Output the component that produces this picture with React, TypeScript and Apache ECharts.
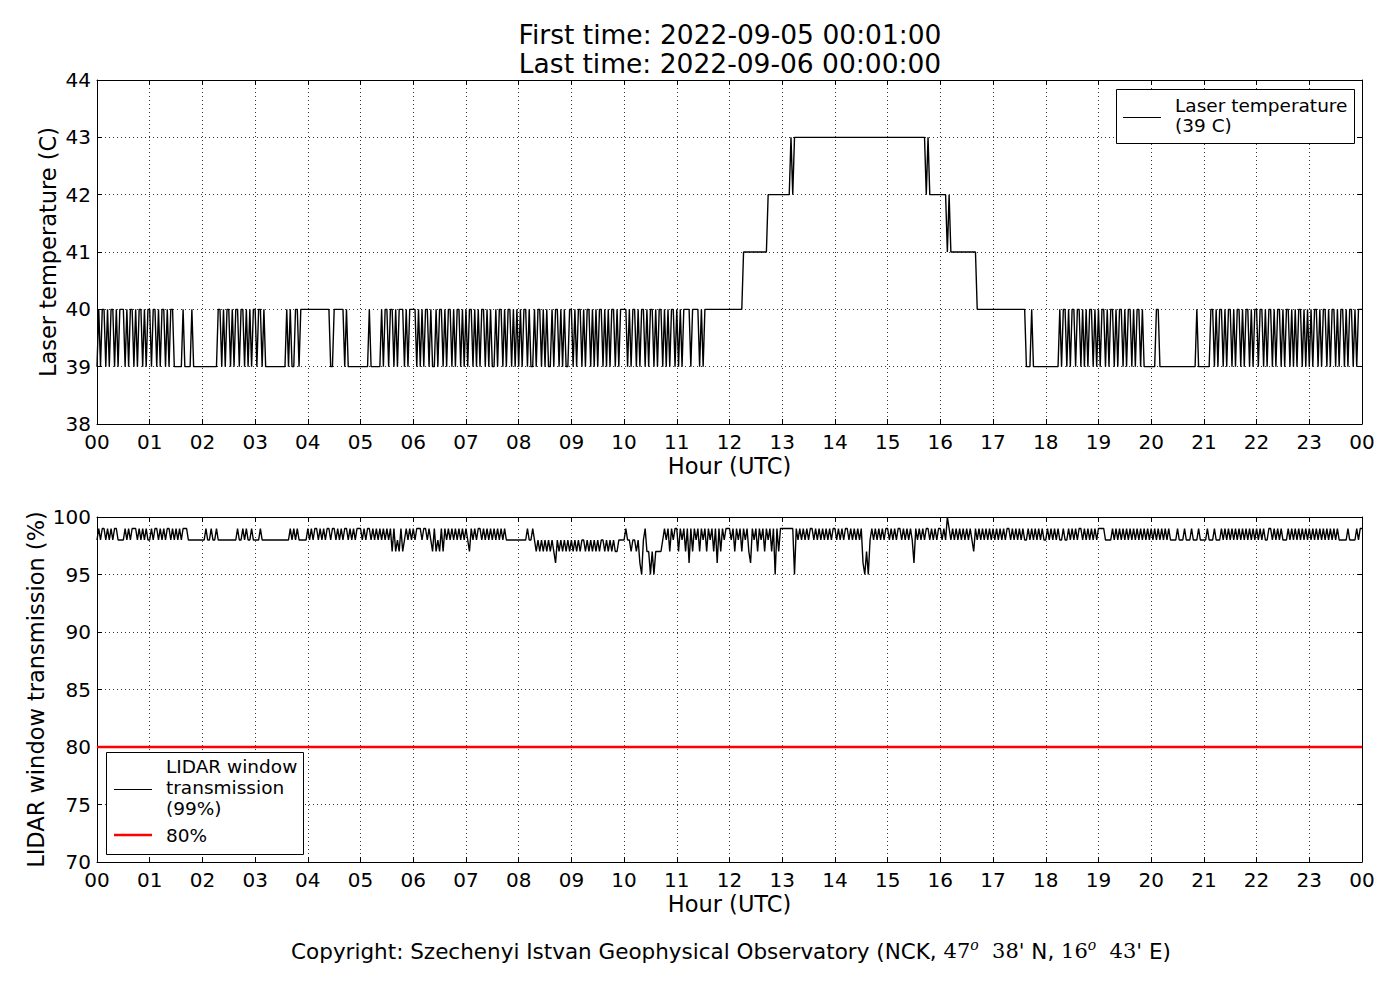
import React, { useEffect, useRef } from "react";
import * as echarts from "echarts";

const TITLE_LINES = ["First time: 2022-09-05 00:01:00", "Last time: 2022-09-06 00:00:00"];
const X_NAME = "Hour (UTC)";
const TEMP_NAME = "Laser temperature (C)";
const TRANS_NAME = "LIDAR window transmission (%)";
const TEMP_LEGEND = "Laser temperature\n(39 C)";
const TRANS_LEGEND = "LIDAR window\ntransmission\n(99%)";
const LIMIT_LEGEND = "80%";
const LIMIT_VALUE = 80;

// Laser temperature, one string per hour (2-minute samples), digit = value - 39
const TEMP_BASE = 39;
const TEMP_ROWS = [
  "010110101101011101011010110101",
  "101101011010110000010000100000",
  "000000000110101101011011010101",
  "101101000000000000101001101111",
  "111111111111100111111010000000",
  "000001000000101101101011101011",
  "110101011010010110101101011010",
  "101101010110101001011010110101",
  "010110100101101010010110101001",
  "101011010110101011010101101011",
  "110101101011010110101101010110",
  "101011110111101011111111111111",
  "111111112222222222222233333333",
  "333334344444444444444444444444",
  "444444444444444444444444444444",
  "444444444444444444444434333333",
  "333323222222222222222111111111",
  "111111111111111111100010000000",
  "000000001011010110110101011010",
  "101101011010110101101011010000",
  "000110000000000000000000001000",
  "000011010110101101011010110101",
  "101101011010110101101010110101",
  "010110101101011010110101101011",
];

// LIDAR window transmission, one string per hour (2-minute samples), char (base 36) = value - 90
const TRANS_BASE = 90;
const TRANS_ROWS = [
  "898998989899888898989998989898",
  "898998989899898989899988888888",
  "889889889888888888889889898898",
  "888988888888888888889898988888",
  "989899898989989989898998989899",
  "989899898989898989797879789898",
  "989998998987978797989898989898",
  "987989899898989898989898888888",
  "888889889878787878787687878787",
  "878787887878787878878787877888",
  "898878878658977575777789897989",
  "979897969798979897989796979899",
  "989798979897698979897989795979",
  "999999959898989899898989898989",
  "989898998989898965758989898989",
  "989898998989898698989899898989",
  "9898a9898989898989879898989898",
  "989898989989898989889898989898",
  "898989898898898989899898989898",
  "999988889898989898989898989898",
  "989898989898888988898889888988",
  "889888988898989898989898989898",
  "989898899898989888989898989898",
  "989898989898989898888898888989",
];

const X_MIN = 0;
const X_MAX = 24;
const TEMP_MIN = 38;
const TEMP_MAX = 44;
const TEMP_STEP = 1;
const TRANS_MIN = 70;
const TRANS_MAX = 100;
const TRANS_STEP = 5;

const FONT = '"DejaVu Sans", sans-serif';
const SERIF = '"DejaVu Serif", serif';

function expand(rows: string[], base: number): number[][] {
  const out: number[][] = [];
  rows.forEach((row, h) => {
    for (let i = 0; i < row.length; i++) {
      out.push([h + i / row.length, base + parseInt(row[i], 36)]);
    }
  });
  out.push([X_MAX, out[out.length - 1][1]]);
  return out;
}

const hourFmt = (v: number) => String(Math.round(v) % 24).padStart(2, "0");

function xAxis(grid: number, position: string, primary: boolean) {
  return {
    type: "value",
    gridIndex: grid,
    position,
    min: X_MIN,
    max: X_MAX,
    interval: 1,
    axisLine: { show: true, onZero: false, lineStyle: { color: "#000", width: 1 } },
    axisTick: { show: true, inside: true, length: 5, lineStyle: { color: "#000", width: 1 } },
    axisLabel: primary
      ? { show: true, margin: 8, color: "#000", fontSize: 20, fontFamily: FONT, formatter: hourFmt }
      : { show: false },
    splitLine: primary
      ? { show: true, lineStyle: { color: "#000", width: 0.8, type: [1, 3] } }
      : { show: false },
    name: primary ? X_NAME : "",
    nameLocation: "middle",
    nameGap: 30,
    nameMoveOverlap: false,
    nameTextStyle: { color: "#000", fontSize: 22.5, fontFamily: FONT },
  };
}

function yAxis(grid: number, position: string, primary: boolean, min: number, max: number, step: number, name: string, gap: number) {
  return {
    type: "value",
    gridIndex: grid,
    position,
    min,
    max,
    interval: step,
    axisLine: { show: true, onZero: false, lineStyle: { color: "#000", width: 1 } },
    axisTick: { show: true, inside: true, length: 5, lineStyle: { color: "#000", width: 1 } },
    axisLabel: primary
      ? { show: true, margin: 6, color: "#000", fontSize: 20, fontFamily: FONT }
      : { show: false },
    splitLine: primary
      ? { show: true, lineStyle: { color: "#000", width: 0.8, type: [1, 3] } }
      : { show: false },
    name: primary ? name : "",
    nameLocation: "middle",
    nameGap: gap,
    nameMoveOverlap: false,
    nameTextStyle: { color: "#000", fontSize: 22.5, fontFamily: FONT },
  };
}

export default function App() {
  const ref = useRef<HTMLDivElement>(null);
  useEffect(() => {
    if (!ref.current) return;
    const chart = echarts.init(ref.current, null, { renderer: "svg" });
    const tempData = expand(TEMP_ROWS, TEMP_BASE);
    const transData = expand(TRANS_ROWS, TRANS_BASE);
    const limitData = [
      [X_MIN, LIMIT_VALUE],
      [X_MAX, LIMIT_VALUE],
    ];
    chart.setOption({
      animation: false,
      backgroundColor: "#fff",
      grid: [
        { left: 97, top: 80, width: 1265, height: 344 },
        { left: 97, top: 517, width: 1265, height: 345 },
      ],
      xAxis: [xAxis(0, "bottom", true), xAxis(0, "top", false), xAxis(1, "bottom", true), xAxis(1, "top", false)],
      yAxis: [
        yAxis(0, "left", true, TEMP_MIN, TEMP_MAX, TEMP_STEP, TEMP_NAME, 38),
        yAxis(0, "right", false, TEMP_MIN, TEMP_MAX, TEMP_STEP, "", 0),
        yAxis(1, "left", true, TRANS_MIN, TRANS_MAX, TRANS_STEP, TRANS_NAME, 50),
        yAxis(1, "right", false, TRANS_MIN, TRANS_MAX, TRANS_STEP, "", 0),
      ],
      series: [
        {
          name: "Laser temperature",
          type: "line",
          xAxisIndex: 0,
          yAxisIndex: 0,
          data: tempData,
          showSymbol: false,
          symbol: "none",
          lineStyle: { color: "#000", width: 1.4 },
          silent: true,
        },
        {
          name: "LIDAR window transmission",
          type: "line",
          xAxisIndex: 2,
          yAxisIndex: 2,
          data: transData,
          showSymbol: false,
          symbol: "none",
          lineStyle: { color: "#000", width: 1.4 },
          silent: true,
        },
        {
          name: LIMIT_LEGEND,
          type: "line",
          xAxisIndex: 2,
          yAxisIndex: 2,
          data: limitData,
          showSymbol: false,
          symbol: "none",
          lineStyle: { color: "#ff0000", width: 2.5 },
          silent: true,
          z: 4,
        },
      ],
      graphic: [
        {
          type: "text",
          z: 100,
          style: { text: TITLE_LINES[0], x: 730, y: 34, align: "center", verticalAlign: "middle", fontSize: 26.5, fontFamily: FONT, fill: "#000" },
        },
        {
          type: "text",
          z: 100,
          style: { text: TITLE_LINES[1], x: 730, y: 63, align: "center", verticalAlign: "middle", fontSize: 26.5, fontFamily: FONT, fill: "#000" },
        },
        // top legend
        {
          type: "rect",
          z: 100,
          shape: { x: 1116.5, y: 89.5, width: 238, height: 54 },
          style: { fill: "#fff", stroke: "#000", lineWidth: 1 },
        },
        {
          type: "line",
          z: 101,
          shape: { x1: 1123, y1: 117.5, x2: 1161, y2: 117.5 },
          style: { stroke: "#000", lineWidth: 1.2 },
        },
        {
          type: "text",
          z: 101,
          style: { text: TEMP_LEGEND, x: 1175, y: 115, verticalAlign: "middle", fontSize: 18.5, lineHeight: 20, fontFamily: FONT, fill: "#000" },
        },
        // bottom legend
        {
          type: "rect",
          z: 100,
          shape: { x: 106.5, y: 752.5, width: 197, height: 102 },
          style: { fill: "#fff", stroke: "#000", lineWidth: 1 },
        },
        {
          type: "line",
          z: 101,
          shape: { x1: 114, y1: 789.5, x2: 152, y2: 789.5 },
          style: { stroke: "#000", lineWidth: 1.2 },
        },
        {
          type: "text",
          z: 101,
          style: { text: TRANS_LEGEND, x: 166, y: 787, verticalAlign: "middle", fontSize: 18.5, lineHeight: 21, fontFamily: FONT, fill: "#000" },
        },
        {
          type: "line",
          z: 101,
          shape: { x1: 114, y1: 835, x2: 152, y2: 835 },
          style: { stroke: "#ff0000", lineWidth: 2.5 },
        },
        {
          type: "text",
          z: 101,
          style: { text: LIMIT_LEGEND, x: 166, y: 835, verticalAlign: "middle", fontSize: 18.5, fontFamily: FONT, fill: "#000" },
        },
        // footer
        {
          type: "text",
          z: 100,
          style: {
            text: "{a|Copyright: Szechenyi Istvan Geophysical Observatory (NCK, }{m|47}{s|o}{m|  38'}{a| N, }{m|16}{s|o}{m|  43'}{a| E)}",
            x: 731,
            y: 951,
            align: "center",
            verticalAlign: "middle",
            fill: "#000",
            rich: {
              a: { fontSize: 21.5, fontFamily: FONT, fill: "#000", lineHeight: 26, verticalAlign: "middle" },
              m: { fontSize: 21, fontFamily: SERIF, fill: "#000", lineHeight: 26, verticalAlign: "middle" },
              s: { fontSize: 14, fontFamily: SERIF, fontStyle: "italic", fill: "#000", lineHeight: 26, verticalAlign: "top" },
            },
          },
        },
      ],
    });
    return () => chart.dispose();
  }, []);
  return <div ref={ref} style={{ position: "absolute", left: 0, top: 0, width: 1400, height: 1000 }} />;
}
